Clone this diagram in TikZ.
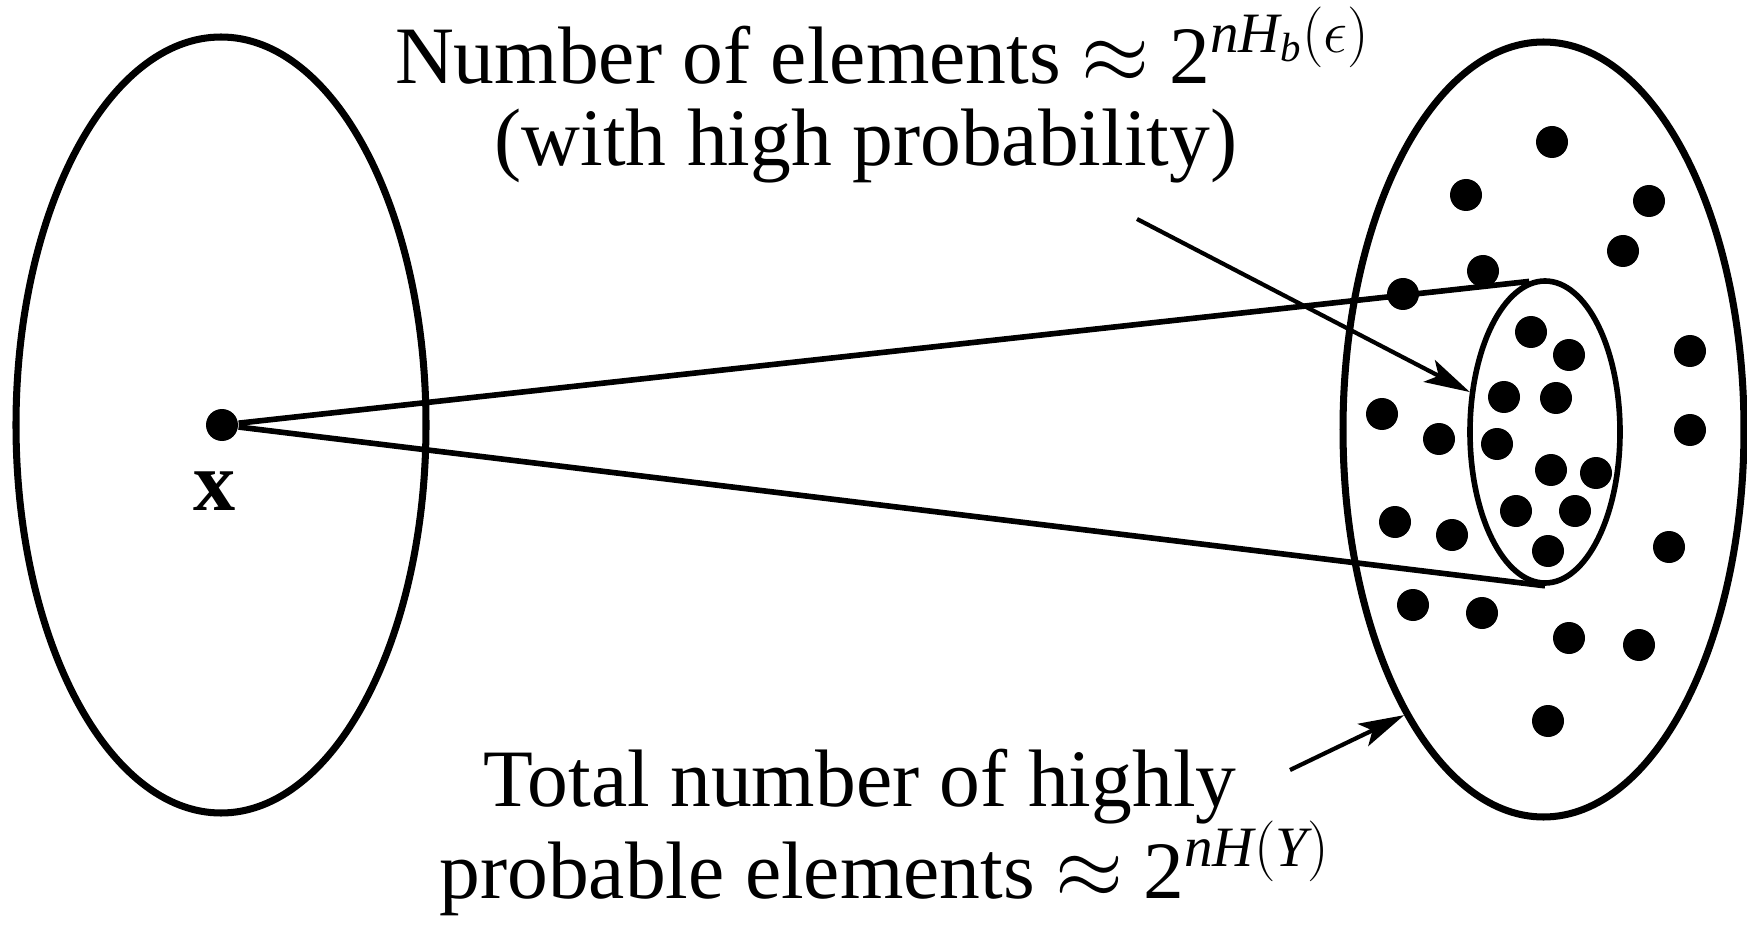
\documentclass[tikz,border=0pt]{standalone}
\usepackage{amsmath,amssymb}
\usepackage{fontspec}
\setmainfont{Liberation Serif}
\usepackage{tikz}
\usetikzlibrary{arrows.meta,positioning,shapes.geometric}

\begin{document}
\begin{tikzpicture}[x=0.1mm,y=-0.1mm,
  region/.style={draw,ellipse,line width=2pt,inner sep=0pt},
  elem/.style={circle,fill,inner sep=0pt,minimum size=3.2mm},
  ray/.style={line width=1.6pt},
  pointer/.style={-{Stealth[length=13pt,width=7pt,inset=3pt]},line width=1.2pt},
  caption/.style={font=\fontsize{23.2}{27}\selectfont,inner sep=0pt,anchor=base}]
  \useasboundingbox (0,0) rectangle (1747,929);
  % input space with the sent word x
  \node[region,minimum width=41mm,minimum height=77.6mm] (xspace) at (221,425) {};
  \node[elem] (xpt) at (222,425) {};
  \node[caption,font=\fontsize{24}{27}\selectfont\bfseries,below=2.9mm of xpt,xshift=-0.7mm] (xlab) {x};
  % output space and the fan of likely outputs
  \node[region,minimum width=40.1mm,minimum height=77.5mm] (yspace) at (1543.5,429.5) {};
  \node[region,line width=1.6pt,minimum width=15mm,minimum height=30.2mm] (fan) at (1545,432) {};
  \draw[ray] (xpt) -- (fan.96);
  \draw[ray] (xpt) -- (fan.south);
  \foreach \x/\y [count=\i] in {1552/142,1466/195,1649/201,1623/251,1483/271,1403/294,
      1690/351,1382/414,1439/439,1690/430,1395/522,1452/535,1669/547,1413/605,
      1482/613,1569/638,1639/645,1548/721}
    \node[elem] (out\i) at (\x,\y) {};
  \foreach \x/\y [count=\i] in {1531/332,1569/355,1504/397,1556/398,1497/444,
      1551/470,1596/473,1516/511,1575/511,1548/551}
    \node[elem] (in\i) at (\x,\y) {};
  % labels
  \node[caption] (toptxt) at (883,84) {Number of elements $\approx$ 2$^{\textit{nH}_{\textit{b}}(\epsilon)}$};
  \node[caption] (toptxtb) at (866,166) {(with high probability)};
  \node[caption] (bottxt) at (860,806) {Total number of highly};
  \node[caption] (bottxtb) at (885,898) {probable elements $\approx$ 2$^{\textit{nH}(\textit{Y})}$};
  \coordinate (tailA) at (1137,219);
  \coordinate (tailB) at (1290,770);
  \draw[pointer] (tailA) -- (fan.152);
  \draw[pointer] (tailB) -- (yspace.244);
\end{tikzpicture}
\end{document}
